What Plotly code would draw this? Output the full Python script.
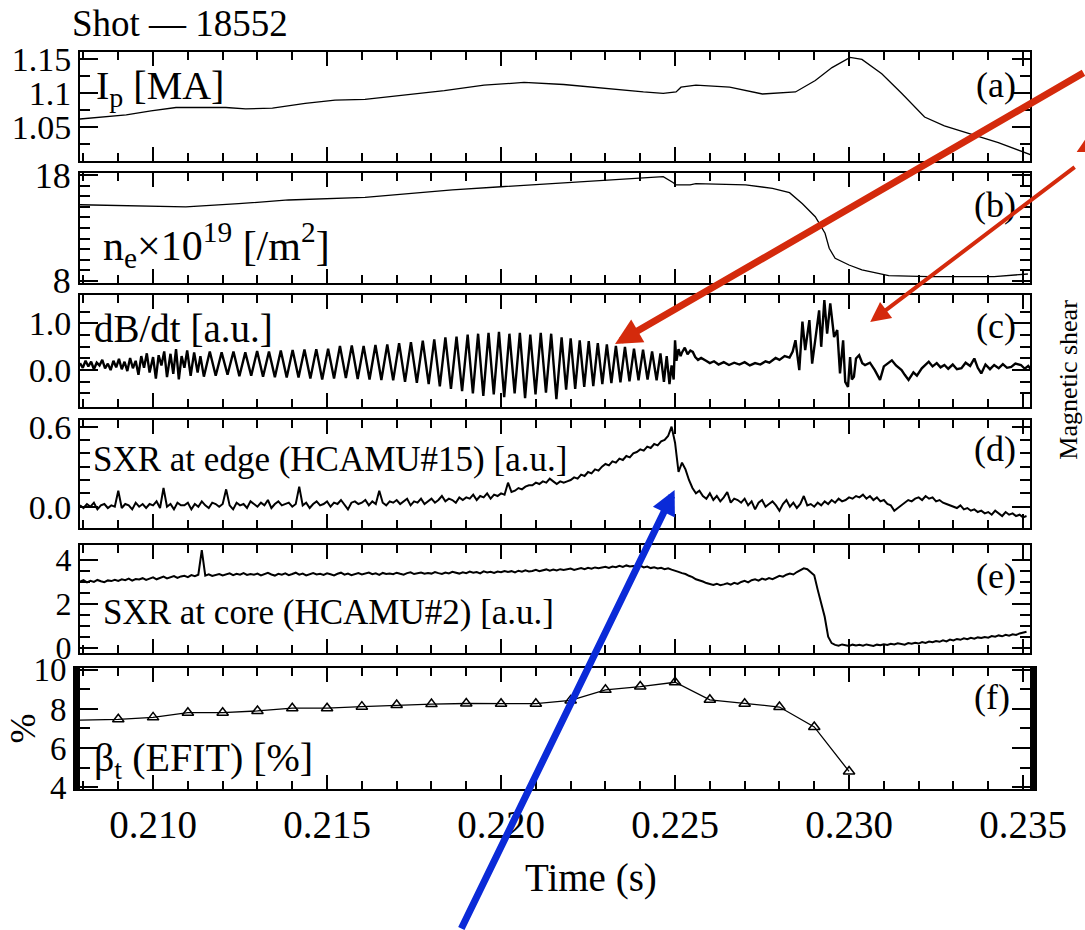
import plotly.graph_objects as go

# ---------------- data ----------------
ip_t = [0.20789, 0.20866, 0.20923, 0.20994, 0.21066, 0.21151, 0.21209, 0.21266, 0.21343, 0.21437,
        0.21523, 0.21609, 0.21723, 0.21837, 0.21951, 0.22066, 0.22180, 0.22294, 0.22409, 0.22466,
        0.22503, 0.22517, 0.22560, 0.22657, 0.22751, 0.22846, 0.22903, 0.22951, 0.23003, 0.23037,
        0.23094, 0.23151, 0.23217, 0.23274, 0.23360, 0.23429, 0.23523]
ip_ma = [1.062, 1.065, 1.068, 1.074, 1.079, 1.079, 1.079, 1.077, 1.078, 1.085,
         1.090, 1.091, 1.097, 1.104, 1.112, 1.116, 1.113, 1.107, 1.102, 1.100,
         1.102, 1.109, 1.112, 1.109, 1.099, 1.102, 1.119, 1.138, 1.153, 1.150,
         1.129, 1.100, 1.065, 1.052, 1.038, 1.027, 1.009]

ne_t = [0.20789, 0.21094, 0.21246, 0.21389, 0.21609, 0.21720, 0.21860, 0.22000, 0.22150, 0.22290,
        0.22400, 0.22466, 0.22494, 0.22503, 0.22543, 0.22560, 0.22703, 0.22780, 0.22829, 0.22866,
        0.22903, 0.22931, 0.22943, 0.22960, 0.23000, 0.23037, 0.23114, 0.23229, 0.23417, 0.23514]
ne_val = [15.2, 15.0, 15.3, 15.65, 15.9, 16.2, 16.6, 16.9, 17.2, 17.5,
          17.7, 17.85, 17.3, 17.07, 17.07, 17.2, 17.07, 16.75, 16.34, 15.3,
          14.07, 12.5, 11.08, 10.13, 9.5, 9.03, 8.5, 8.4, 8.4, 8.65]

dbdt_t = [
    0.20790, 0.20798, 0.20806, 0.20814, 0.20822, 0.20830, 0.20838, 0.20846, 0.20854, 0.20862,
    0.20870, 0.20878, 0.20886, 0.20894, 0.20902, 0.20910, 0.20918, 0.20926, 0.20934, 0.20942,
    0.20950, 0.20958, 0.20966, 0.20974, 0.20982, 0.20990, 0.21000, 0.21008, 0.21016, 0.21024,
    0.21032, 0.21040, 0.21050, 0.21058, 0.21066, 0.21074, 0.21082, 0.21090, 0.21098, 0.21108,
    0.21118, 0.21128, 0.21136, 0.21146, 0.21163, 0.21180, 0.21197, 0.21214, 0.21231, 0.21248,
    0.21265, 0.21282, 0.21299, 0.21316, 0.21333, 0.21350, 0.21367, 0.21384, 0.21401, 0.21418,
    0.21435, 0.21452, 0.21469, 0.21486, 0.21503, 0.21520, 0.21537, 0.21554, 0.21571, 0.21588,
    0.21605, 0.21622, 0.21639, 0.21656, 0.21673, 0.21690, 0.21707, 0.21724, 0.21741, 0.21758,
    0.21775, 0.21792, 0.21808, 0.21824, 0.21840, 0.21856, 0.21872, 0.21888, 0.21904, 0.21919,
    0.21934, 0.21949, 0.21964, 0.21979, 0.21994, 0.22009, 0.22024, 0.22039, 0.22054, 0.22069,
    0.22084, 0.22099, 0.22114, 0.22129, 0.22144, 0.22159, 0.22174, 0.22187, 0.22200, 0.22213,
    0.22226, 0.22239, 0.22252, 0.22265, 0.22278, 0.22291, 0.22304, 0.22317, 0.22330, 0.22343,
    0.22356, 0.22369, 0.22382, 0.22395, 0.22408, 0.22421, 0.22434, 0.22447, 0.22458, 0.22468,
    0.22476, 0.22484, 0.22490, 0.22496, 0.22500, 0.22504, 0.22510, 0.22516, 0.22520, 0.22528,
    0.22536, 0.22544, 0.22551, 0.22558, 0.22566, 0.22575, 0.22589, 0.22600, 0.22612, 0.22625,
    0.22640, 0.22655, 0.22670, 0.22685, 0.22700, 0.22715, 0.22730, 0.22745, 0.22760, 0.22771,
    0.22789, 0.22800, 0.22815, 0.22829, 0.22838, 0.22846, 0.22857, 0.22866, 0.22874, 0.22886,
    0.22894, 0.22903, 0.22914, 0.22920, 0.22929, 0.22937, 0.22946, 0.22957, 0.22966, 0.22974,
    0.22983, 0.22989, 0.22997, 0.23003, 0.23008, 0.23014, 0.23020, 0.23029, 0.23038, 0.23046,
    0.23060, 0.23074, 0.23089, 0.23100, 0.23110, 0.23123, 0.23135, 0.23151, 0.23160, 0.23171,
    0.23185, 0.23195, 0.23209, 0.23220, 0.23229, 0.23240, 0.23252, 0.23263, 0.23274, 0.23285,
    0.23298, 0.23310, 0.23323, 0.23335, 0.23348, 0.23360, 0.23370, 0.23380, 0.23392, 0.23405,
    0.23417, 0.23430, 0.23442, 0.23454, 0.23466, 0.23478, 0.23494, 0.23505, 0.23515, 0.23525]
dbdt_val = [
    0.15, 0.05, 0.20, 0.08, 0.18, 0.02, 0.16, 0.10, 0.22, 0.04,
    0.14, 0.00, 0.20, 0.06, 0.24, 0.02, 0.18, -0.02, 0.26, 0.04,
    0.20, -0.10, 0.30, 0.05, 0.36, -0.05, 0.28, -0.18, 0.32, 0.10,
    0.40, -0.15, 0.35, -0.08, 0.45, -0.20, 0.30, 0.05, 0.42, -0.12,
    0.38, -0.05, 0.30, -0.14, 0.40, -0.12, 0.38, -0.10, 0.40, -0.13,
    0.38, -0.12, 0.41, -0.14, 0.40, -0.15, 0.42, -0.16, 0.43, -0.16,
    0.44, -0.18, 0.45, -0.20, 0.46, -0.18, 0.52, -0.17, 0.53, -0.19,
    0.52, -0.20, 0.54, -0.21, 0.55, -0.22, 0.58, -0.25, 0.60, -0.27,
    0.63, -0.30, 0.66, -0.35, 0.70, -0.40, 0.72, -0.45, 0.76, -0.50,
    0.78, -0.55, 0.80, -0.52, 0.82, -0.58, 0.78, -0.50, 0.80, -0.60,
    0.76, -0.52, 0.80, -0.48, 0.78, -0.62, 0.70, -0.42, 0.68, -0.40,
    0.64, -0.36, 0.62, -0.34, 0.58, -0.30, 0.55, -0.28, 0.52, -0.26,
    0.50, -0.24, 0.46, -0.22, 0.44, -0.20, 0.40, -0.22, 0.36, -0.25,
    0.30, -0.30, 0.10, -0.20, 0.64, 0.20, 0.45, 0.30, 0.38, 0.48,
    0.34, 0.42, 0.39, 0.28, 0.22, 0.26, 0.20, 0.15, 0.19, 0.12,
    0.17, 0.11, 0.16, 0.12, 0.17, 0.10, 0.15, 0.12, 0.19, 0.16,
    0.26, 0.22, 0.30, 0.27, 0.40, 0.64, 0.00, 1.04, 0.43, 1.07,
    0.14, 0.71, 1.28, 0.50, 1.50, 0.78, 1.43, 0.71, 0.86, -0.07,
    0.64, -0.25, -0.36, 0.28, -0.20, -0.14, 0.25, 0.32, 0.15, 0.11,
    0.16, 0.00, -0.21, 0.08, 0.14, 0.21, 0.10, 0.00, -0.10, -0.21,
    -0.05, -0.12, 0.04, 0.12, 0.18, 0.08, 0.15, 0.06, 0.11, 0.03,
    0.12, 0.02, 0.04, 0.16, 0.09, 0.25, 0.05, -0.07, 0.12, 0.02,
    0.11, 0.04, 0.13, 0.05, 0.07, 0.14, 0.11, 0.03, 0.09, 0.00]

# SXR channels: sampled every 0.1 ms starting at 0.2079 s
sxr_t0 = 0.2079
sxr_dt = 0.0001
sxr_edge = [
    0.01, -0.01, 0.02, 0.00, 0.03, -0.02, 0.01, 0.02, -0.01, 0.01,
    0.00, 0.12, -0.01, 0.02, 0.01, -0.02, 0.03, 0.00, 0.02, -0.01,
    0.02, 0.01, 0.04, -0.01, 0.14, 0.00, 0.02, -0.02, 0.03, 0.01,
    0.01, 0.03, -0.02, 0.02, 0.00, 0.04, 0.01, -0.01, 0.03, 0.02,
    0.00, 0.02, 0.13, 0.01, -0.02, 0.03, 0.01, 0.02, -0.01, 0.04,
    0.02, 0.00, 0.03, 0.01, 0.05, -0.01, 0.02, 0.04, 0.01, 0.02,
    0.03, 0.00, 0.02, 0.15, 0.01, 0.03, -0.01, 0.02, 0.04, 0.01,
    0.02, 0.04, 0.00, 0.03, 0.02, 0.05, 0.01, -0.02, 0.03, 0.04,
    0.02, 0.03, 0.05, 0.01, 0.04, 0.02, 0.12, 0.03, 0.01, 0.04,
    0.03, 0.05, 0.02, 0.04, 0.06, 0.01, 0.04, 0.03, 0.06, 0.02,
    0.04, 0.06, 0.03, 0.05, 0.08, 0.04, 0.06, 0.05, 0.03, 0.07,
    0.05, 0.07, 0.06, 0.09, 0.05, 0.08, 0.07, 0.10, 0.06, 0.09,
    0.08, 0.10, 0.09, 0.18, 0.11, 0.12, 0.14, 0.13, 0.15, 0.16,
    0.16, 0.18, 0.17, 0.19, 0.18, 0.21, 0.19, 0.17, 0.19, 0.18,
    0.19, 0.20, 0.22, 0.21, 0.24, 0.23, 0.26, 0.25, 0.28, 0.27,
    0.30, 0.32, 0.31, 0.34, 0.33, 0.36, 0.35, 0.38, 0.37, 0.40,
    0.41, 0.43, 0.42, 0.45, 0.44, 0.47, 0.46, 0.49, 0.50, 0.53,
    0.60, 0.48, 0.26, 0.33, 0.28, 0.20, 0.14, 0.10, 0.12, 0.08,
    0.06, 0.10, 0.05, 0.08, 0.04, 0.07, 0.11, 0.03, 0.06, 0.05,
    0.03, 0.06, 0.01, 0.04, -0.02, 0.03, 0.05, 0.00, 0.02, 0.04,
    0.01, -0.03, 0.02, 0.05, 0.00, 0.03, -0.01, 0.02, 0.08, 0.01,
    0.02, 0.00, 0.03, 0.01, 0.04, 0.02, 0.05, 0.03, 0.06, 0.04,
    0.05, 0.07, 0.06, 0.08, 0.07, 0.09, 0.06, 0.08, 0.05, 0.07,
    0.04, 0.05, 0.02, 0.01, -0.03, -0.01, 0.01, 0.03, 0.05, 0.04,
    0.06, 0.07, 0.05, 0.08, 0.06, 0.07, 0.04, 0.05, 0.03, 0.02,
    0.01, 0.00, -0.01, 0.01, -0.02, -0.01, -0.03, -0.02, -0.04, -0.03,
    -0.05, -0.04, -0.06, -0.03, -0.05, -0.07, -0.04, -0.06, -0.05, -0.07,
    -0.06, -0.08, -0.07]
sxr_core = [
    3.02, 3.08, 2.98, 3.05, 3.00, 3.09, 3.03, 2.99, 3.07, 3.04,
    3.10, 3.05, 3.12, 3.08, 3.15, 3.06, 3.13, 3.11, 3.17, 3.09,
    3.15, 3.21, 3.12, 3.19, 3.24, 3.16, 3.22, 3.27, 3.18, 3.25,
    3.28, 3.22, 3.31, 3.26, 3.33, 4.45, 3.29, 3.35, 3.27, 3.32,
    3.36, 3.30, 3.34, 3.39, 3.31, 3.37, 3.33, 3.40, 3.32, 3.36,
    3.33, 3.38, 3.30, 3.36, 3.41, 3.34, 3.29, 3.37, 3.33, 3.39,
    3.31, 3.36, 3.42, 3.33, 3.38, 3.30, 3.35, 3.40, 3.34, 3.37,
    3.32, 3.39, 3.35, 3.30, 3.37, 3.42, 3.33, 3.38, 3.31, 3.36,
    3.40, 3.34, 3.37, 3.43, 3.35, 3.39, 3.32, 3.41, 3.36, 3.38,
    3.35, 3.42, 3.37, 3.33, 3.40, 3.44, 3.36, 3.39, 3.43, 3.37,
    3.41, 3.38, 3.45, 3.40, 3.36, 3.43, 3.39, 3.46, 3.41, 3.38,
    3.44, 3.40, 3.47, 3.42, 3.45, 3.39, 3.48, 3.43, 3.46, 3.41,
    3.47, 3.44, 3.50, 3.45, 3.49, 3.43, 3.51, 3.47, 3.53, 3.48,
    3.50, 3.55, 3.49, 3.53, 3.57, 3.51, 3.56, 3.52, 3.58, 3.54,
    3.57, 3.61, 3.55, 3.60, 3.63, 3.58, 3.64, 3.60, 3.66, 3.62,
    3.65, 3.69, 3.64, 3.70, 3.67, 3.73, 3.68, 3.75, 3.70, 3.72,
    3.68, 3.74, 3.66, 3.70, 3.63, 3.67, 3.61, 3.64, 3.58, 3.62,
    3.56, 3.52, 3.46, 3.40, 3.36, 3.28, 3.22, 3.12, 3.08, 3.02,
    2.95, 2.90, 2.86, 2.92, 2.85, 2.89, 2.94, 2.88, 2.96, 2.91,
    3.00, 3.05, 2.98, 3.08, 3.12, 3.06, 3.15, 3.10, 3.18, 3.13,
    3.22, 3.28, 3.24, 3.33, 3.38, 3.34, 3.45, 3.52, 3.62, 3.58,
    3.45, 3.30, 2.64, 2.05, 1.42, 0.51, 0.22, 0.14, 0.10, 0.16,
    0.12, 0.09, 0.15, 0.11, 0.14, 0.10, 0.16, 0.13, 0.09, 0.15,
    0.12, 0.17, 0.14, 0.19, 0.16, 0.21, 0.18, 0.15, 0.22, 0.19,
    0.24, 0.20, 0.27, 0.23, 0.29, 0.26, 0.31, 0.28, 0.35, 0.30,
    0.38, 0.34, 0.41, 0.37, 0.44, 0.40, 0.46, 0.42, 0.48, 0.45,
    0.50, 0.47, 0.54, 0.51, 0.57, 0.53, 0.60, 0.56, 0.62, 0.59,
    0.66, 0.70, 0.74]

beta_t = [0.207, 0.209, 0.210, 0.211, 0.212, 0.213, 0.214, 0.215, 0.216, 0.217, 0.218, 0.219,
          0.220, 0.221, 0.222, 0.223, 0.224, 0.225, 0.226, 0.227, 0.228, 0.229, 0.230]
beta_val = [7.40, 7.47, 7.57, 7.81, 7.81, 7.90, 8.04, 8.04, 8.12, 8.20, 8.25, 8.28,
            8.27, 8.27, 8.44, 8.98, 9.15, 9.37, 8.47, 8.27, 8.10, 7.08, 4.80]

x_tickvals = [0.210, 0.215, 0.220, 0.225, 0.230, 0.235]

sxr_t = [round(sxr_t0 + i * sxr_dt, 5) for i in range(len(sxr_edge))]

# ---------------- figure ----------------
FONT = "Liberation Serif"
W, H = 1085, 930
L, R, T, B = 73, 55, 52, 141
PW, PH = W - L - R, H - T - B


def px(xp):
    return (xp - L) / PW


def py(yp):
    return (H - B - yp) / PH


fig = go.Figure()
fig.add_trace(go.Scatter(x=ip_t, y=ip_ma, mode="lines", line=dict(color="black", width=1.3),
                         xaxis="x", yaxis="y"))
fig.add_trace(go.Scatter(x=ne_t, y=ne_val, mode="lines", line=dict(color="black", width=1.3),
                         xaxis="x2", yaxis="y2"))
fig.add_trace(go.Scatter(x=dbdt_t, y=dbdt_val, mode="lines", line=dict(color="black", width=2.4),
                         xaxis="x3", yaxis="y3"))
fig.add_trace(go.Scatter(x=sxr_t, y=sxr_edge, mode="lines", line=dict(color="black", width=2),
                         xaxis="x4", yaxis="y4"))
fig.add_trace(go.Scatter(x=sxr_t, y=sxr_core, mode="lines", line=dict(color="black", width=2),
                         xaxis="x5", yaxis="y5"))
fig.add_trace(go.Scatter(x=beta_t, y=beta_val, mode="lines+markers",
                         line=dict(color="black", width=1.3),
                         marker=dict(symbol="triangle-up-open", size=10, color="black",
                                     line=dict(width=1.5, color="black")),
                         xaxis="x6", yaxis="y6"))

xr = [0.2079, 0.2352]
domains = [[0.8521, 1.0], [0.6866, 0.8358], [0.5183, 0.6703],
           [0.3541, 0.5007], [0.1845, 0.3311], [0.0, 0.1642]]


def xaxis(i, labels=False):
    d = dict(range=xr, domain=[0, 1], anchor="y" if i == 1 else f"y{i}",
             showgrid=False, zeroline=False, showline=True, linecolor="black", linewidth=2,
             mirror="ticks", ticks="inside", ticklen=14, tickwidth=1.5, tickcolor="black",
             tickmode="array", tickvals=x_tickvals,
             minor=dict(dtick=0.001, tick0=0.208, ticks="inside", ticklen=8,
                        tickwidth=1.5, tickcolor="black"),
             showticklabels=labels)
    if labels:
        d.update(ticktext=[f"{v:.3f}" for v in x_tickvals],
                 tickfont=dict(family=FONT, size=39, color="black"))
    return d


def yaxis(i, rng, vals, texts, minor_vals, size=34, lw=2):
    return dict(range=rng, domain=domains[i - 1], anchor="x" if i == 1 else f"x{i}",
                showgrid=False, zeroline=False, showline=True, linecolor="black", linewidth=lw,
                mirror="ticks", ticks="inside", ticklen=18, tickwidth=1.5, tickcolor="black",
                tickmode="array", tickvals=vals, ticktext=texts,
                minor=dict(tickmode="array", tickvals=minor_vals, ticks="inside", ticklen=10,
                           tickwidth=1.5, tickcolor="black"),
                tickfont=dict(family=FONT, size=size, color="black"))


layout = dict(
    width=W, height=H, margin=dict(l=L, r=R, t=T, b=B),
    paper_bgcolor="white", plot_bgcolor="white", showlegend=False,
    font=dict(family=FONT, color="black", size=34),
)
for i in range(1, 7):
    layout["xaxis" if i == 1 else f"xaxis{i}"] = xaxis(i, labels=(i == 6))

layout["yaxis"] = yaxis(1, [1.0, 1.161], [1.05, 1.1, 1.15], ["1.05", "1.1", "1.15"],
                        [1.025, 1.075, 1.125], size=34)
layout["yaxis2"] = yaxis(2, [7.8, 18.2], [8, 18], ["8", "18"],
                         [9, 10, 11, 12, 13, 14, 15, 16, 17], size=36)
layout["yaxis3"] = yaxis(3, [-0.79, 1.61], [0.0, 1.0], ["0.0", "1.0"],
                         [-0.5, -0.25, 0.25, 0.5, 0.75, 1.25], size=34)
layout["yaxis4"] = yaxis(4, [-0.16, 0.65], [0.0, 0.6], ["0.0", "0.6"],
                         [0.1, 0.2, 0.3, 0.4, 0.5], size=34)
layout["yaxis5"] = yaxis(5, [-0.23, 4.68], [0, 2, 4], ["0", "2", "4"],
                         [0.5, 1.0, 1.5, 2.5, 3.0, 3.5], size=32)
layout["yaxis6"] = yaxis(6, [3.9, 10.1], [4, 6, 8, 10], ["4", "6", "8", "10"],
                         [5, 7, 9], size=33, lw=7)

fig.update_layout(**layout)


def F(s):
    return dict(family=FONT, color="black", size=s)


ann = [
    dict(text="Shot — 18552", x=px(63), y=py(24), xanchor="left", yanchor="middle", font=F(37)),
    dict(text="I<sub>p</sub> [MA]", x=px(87), y=py(88), xanchor="left", yanchor="middle",
         font=F(40)),
    dict(text="n<sub>e</sub>×10<sup>19</sup> [/m<sup>2</sup>]", x=px(94), y=py(245),
         xanchor="left", yanchor="middle", font=F(42)),
    dict(text="dB/dt [a.u.]", x=px(85), y=py(329), xanchor="left", yanchor="middle",
         font=F(39)),
    dict(text="SXR at edge (HCAMU#15) [a.u.]", x=px(84), y=py(460), xanchor="left",
         yanchor="middle", font=F(35)),
    dict(text="SXR at core (HCAMU#2) [a.u.]", x=px(94), y=py(612), xanchor="left",
         yanchor="middle", font=F(35)),
    dict(text="β<sub>t</sub> (EFIT) [%]", x=px(85), y=py(760), xanchor="left",
         yanchor="middle", font=F(40)),
    dict(text="(a)", x=px(1018), y=py(85), xanchor="right", yanchor="middle", font=F(36)),
    dict(text="(b)", x=px(1018), y=py(205), xanchor="right", yanchor="middle", font=F(36)),
    dict(text="(c)", x=px(1018), y=py(326), xanchor="right", yanchor="middle", font=F(36)),
    dict(text="(d)", x=px(1018), y=py(449), xanchor="right", yanchor="middle", font=F(36)),
    dict(text="(e)", x=px(1018), y=py(576), xanchor="right", yanchor="middle", font=F(36)),
    dict(text="(f)", x=px(1012), y=py(697), xanchor="right", yanchor="middle", font=F(36)),
    dict(text="Time (s)", x=px(588), y=py(878), xanchor="center", yanchor="middle",
         font=F(39)),
    dict(text="%", x=px(16), y=py(728), xanchor="center", yanchor="middle", textangle=-90,
         font=F(36)),
    dict(text="Magnetic shear", x=px(1068), y=py(380), xanchor="center", yanchor="middle",
         textangle=-90, font=F(26)),
    # arrows
    dict(text="", x=px(612), y=py(344), ax=478, ay=-272, showarrow=True, arrowhead=2,
         arrowsize=0.75, arrowwidth=7, arrowcolor="#d42a0c", standoff=0),
    dict(text="", x=px(869), y=py(322), ax=206, ay=-156, showarrow=True, arrowhead=2,
         arrowsize=1.0, arrowwidth=4, arrowcolor="#d42a0c", standoff=0),
    dict(text="", x=px(672), y=py(490), ax=-214, ay=440, showarrow=True, arrowhead=2,
         arrowsize=0.7, arrowwidth=7, arrowcolor="#0a2ad8", standoff=0),
]
for a in ann:
    a.setdefault("xref", "paper")
    a.setdefault("yref", "paper")
    a.setdefault("showarrow", False)
fig.update_layout(annotations=ann)

fig.add_shape(type="path", xref="paper", yref="paper",
              path=f"M {px(1077)} {py(152)} L {px(1086)} {py(139)} L {px(1086)} {py(152)} Z",
              fillcolor="#d42a0c", line=dict(width=0))

fig.write_html("out.html")
